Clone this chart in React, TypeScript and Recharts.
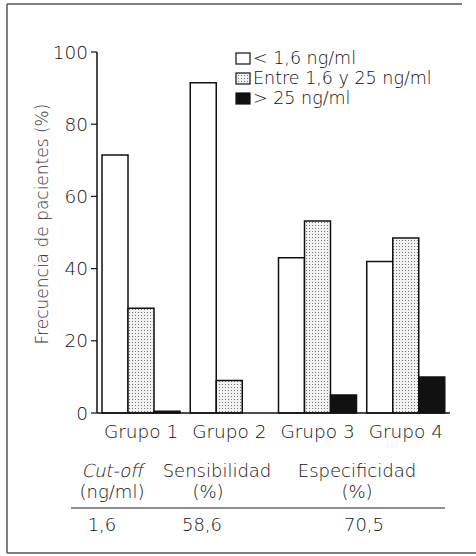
import { BarChart, Bar, XAxis, YAxis, Legend } from 'recharts';

const grupos = ['Grupo 1', 'Grupo 2', 'Grupo 3', 'Grupo 4'];
const bajo = [71.5, 91.5, 43, 42];
const medio = [29, 9, 53.2, 48.5];
const alto = [0.5, 0, 5, 10];
const yTicks = [0, 20, 40, 60, 80, 100];
const legendItems = ['< 1,6 ng/ml', 'Entre 1,6 y 25 ng/ml', '> 25 ng/ml'];

const data = grupos.map((g, i) => ({ grupo: g, bajo: bajo[i], medio: medio[i], alto: alto[i] }));

const font = '"DejaVu Sans", sans-serif';
const weight = 200;
const ink = '#111';
const swatchFills = ['#fff', 'url(#dotsL)', '#111'];

const renderLegend = () => (
  <div style={{ fontFamily: font, fontWeight: weight, fontSize: 17.5, color: ink, lineHeight: '20px' }}>
    <svg width={0} height={0} style={{ position: 'absolute' }}>
      <defs>
        <pattern id="dotsL" width="3" height="3" patternUnits="userSpaceOnUse">
          <rect width="3" height="3" fill="#f2f2f2" />
          <rect width="1" height="1" fill="#777" />
        </pattern>
      </defs>
    </svg>
    {legendItems.map((t, i) => (
      <div key={t} style={{ display: 'flex', alignItems: 'center', height: 20 }}>
        <svg width={17} height={13} style={{ marginRight: 1 }}>
          <rect x={1} y={1} width={14} height={11} fill={swatchFills[i]} stroke="#111" strokeWidth={1.2} />
        </svg>
        <span>{t}</span>
      </div>
    ))}
  </div>
);

export default function App() {
  return (
    <div style={{ position: 'absolute', left: 0, top: 0, width: 476, height: 556, background: '#fff' }}>
      <BarChart
        width={476}
        height={556}
        data={data}
        margin={{ top: 52, right: 26, bottom: 113, left: 37 }}
        barCategoryGap={5}
        barGap={0}
      >
        <defs>
          <pattern id="dots" width="3" height="3" patternUnits="userSpaceOnUse">
            <rect width="3" height="3" fill="#f2f2f2" />
            <rect width="1" height="1" fill="#777" />
          </pattern>
        </defs>
        <XAxis
          dataKey="grupo"
          height={30}
          tickLine={false}
          tickSize={0}
          tickMargin={12}
          axisLine={{ stroke: '#111', strokeWidth: 1.5 }}
          tick={{ fontFamily: font, fontWeight: weight, fontSize: 18.5, fill: ink }}
        />
        <YAxis
          domain={[0, 100]}
          ticks={yTicks}
          width={60}
          tickSize={6}
          tickMargin={3}
          axisLine={{ stroke: '#111', strokeWidth: 1.5 }}
          tickLine={{ stroke: '#111', strokeWidth: 1.2 }}
          tick={{ fontFamily: font, fontWeight: weight, fontSize: 18.5, fill: ink }}
        />
        <Legend
          verticalAlign="middle"
          align="center"
          layout="vertical"
          content={renderLegend}
          wrapperStyle={{ top: 48, left: 235, width: 235 }}
        />
        <Bar dataKey="bajo" fill="#fff" stroke="#111" strokeWidth={1.5} isAnimationActive={false} />
        <Bar dataKey="medio" fill="url(#dots)" stroke="#111" strokeWidth={1.5} isAnimationActive={false} />
        <Bar dataKey="alto" fill="#111" stroke="#111" strokeWidth={1.5} isAnimationActive={false} />
      </BarChart>
      <svg
        width={476}
        height={556}
        style={{ position: 'absolute', left: 0, top: 0, pointerEvents: 'none' }}
        fontFamily={font}
        fontWeight={weight}
        fontSize={18}
        fill={ink}
      >
        <line x1={7} y1={4} x2={462} y2={4} stroke="#555" strokeWidth={1.5} />
        <line x1={7} y1={4} x2={7} y2={553} stroke="#555" strokeWidth={1.5} />
        <line x1={7} y1={553} x2={476} y2={553} stroke="#555" strokeWidth={1.5} />
        <text x={42} y={224} transform="rotate(-90 42 224)" textAnchor="middle" dominantBaseline="central" fill="#333" fontSize={17}>
          Frecuencia de pacientes (%)
        </text>
        <text transform="translate(112 477) skewX(-12)" textAnchor="middle">Cut-off</text>
        <text x={112} y={498} textAnchor="middle">(ng/ml)</text>
        <text x={217} y={477} textAnchor="middle">Sensibilidad</text>
        <text x={208} y={498} textAnchor="middle">(%)</text>
        <text x={357} y={477} textAnchor="middle">Especificidad</text>
        <text x={357} y={498} textAnchor="middle">(%)</text>
        <line x1={71} y1={508} x2={445} y2={508} stroke="#222" strokeWidth={1.2} />
        <text x={102} y={531} textAnchor="middle">1,6</text>
        <text x={202} y={531} textAnchor="middle">58,6</text>
        <text x={364} y={531} textAnchor="middle">70,5</text>
      </svg>
    </div>
  );
}
